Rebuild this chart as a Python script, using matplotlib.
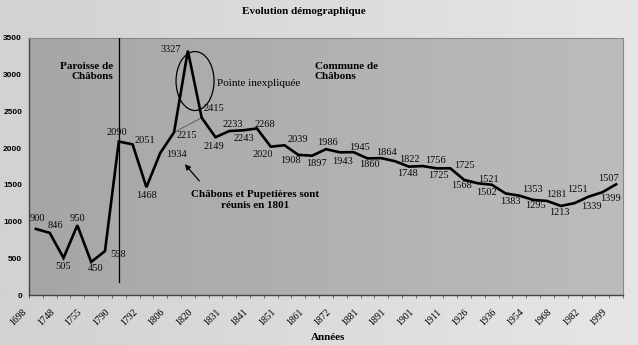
import matplotlib
matplotlib.use('Agg')
import matplotlib.pyplot as plt
import numpy as np
from matplotlib.patches import Ellipse
from matplotlib.transforms import ScaledTranslation, blended_transform_factory

# ---- data ----
tick_years = ['1698', '1748', '1755', '1790', '1792', '1806', '1820', '1831', '1841',
              '1851', '1861', '1872', '1881', '1891', '1901', '1911', '1926', '1936',
              '1954', '1968', '1982', '1999']
population = [900, 846, 505, 950, 450, 598, 2090, 2051, 1468, 1934, 2215, 3327, 2415,
              2149, 2233, 2243, 2268, 2020, 2039, 1908, 1897, 1986, 1943, 1945, 1860,
              1864, 1822, 1748, 1756, 1725, 1725, 1568, 1521, 1502, 1383, 1353, 1295,
              1281, 1213, 1251, 1339, 1399, 1507]
yticks = [0, 500, 1000, 1500, 2000, 2500, 3000, 3500]
merge_index = 6       # vertical separator (Paroisse / Commune)
peak_index = 11       # "Pointe inexpliquée"

# label placement (pixel offsets), style only
label_offsets = [(1, 10), (6, 7), (0, -9), (0, 7), (4, -7), (13, -3), (-2, 9), (12, 4),
                 (0, -8), (16, -2), (13, -3), (-17, 1), (12, 9), (-2, -9), (4, 7),
                 (1, -8), (8, 4), (-8, -8), (13, 6), (-8, -6), (4, -8), (2, 7), (3, -9),
                 (6, 5), (2, -6), (5, 6), (14, 2), (-1, -7), (13, 6), (2, -7), (14, 3),
                 (-3, -6), (10, 4), (-5, -8), (5, -8), (13, 6), (2, -6), (9, 6), (-1, -7),
                 (3, 14), (3, -10), (8, -6), (-8, 6)]

SERIF = ['Liberation Serif', 'DejaVu Serif']
SANS = ['Liberation Sans', 'DejaVu Sans']

fig = plt.figure(figsize=(6.38, 3.45), dpi=100)

# background with a slight left-to-right lightening (photo look)
bg = fig.add_axes([0, 0, 1, 1], zorder=-10)
grad = np.linspace(0, 1, 256).reshape(1, -1)
bg.imshow(grad, cmap=matplotlib.colors.LinearSegmentedColormap.from_list('g', ['#d2d2d2', '#e6e6e6']),
          aspect='auto', extent=[0, 1, 0, 1])
bg.set_axis_off()

ax = fig.add_axes([29 / 638, 50 / 345, 594 / 638, 257 / 345])
ax.imshow(grad, cmap=matplotlib.colors.LinearSegmentedColormap.from_list('p', ['#a6a6a6', '#bcbcbc']),
          aspect='auto', extent=[0, 1, 0, 1], transform=ax.transAxes, zorder=0)

x = list(range(len(population)))
ax.plot(x, population, color='black', lw=1.9, solid_joinstyle='miter', zorder=4)

for i, (v, off) in enumerate(zip(population, label_offsets)):
    ax.annotate(str(v), (i, v), xytext=off, textcoords='offset pixels',
                ha='center', va='center', fontsize=7.5, family=SERIF, color='#0a0a0a', zorder=5)

# separator line
ax.plot([merge_index, merge_index], [180, 3500], color='black', lw=0.9, zorder=3)

# expected line & ellipse
ax.plot([peak_index - 1, peak_index + 1], [population[peak_index - 1], population[peak_index + 1]],
        color='#555555', lw=0.6, zorder=3)
ax.add_patch(Ellipse((11.52, 2914), 2.75, 803, fill=False, edgecolor='black', lw=0.9, zorder=3))

ax.text(13.1, 2880, 'Pointe inexpliquée', fontsize=8, family=SERIF, ha='left', va='center')
ax.text(5.6, 3050, 'Paroisse de\nChâbons', fontsize=8, family=SERIF, fontweight='bold',
        ha='right', va='center', linespacing=1.15)
ax.text(20.2, 3050, 'Commune de\nChâbons', fontsize=8, family=SERIF, fontweight='bold',
        ha='left', va='center', linespacing=1.15)
ax.text(15.9, 1290, 'Châbons et Pupetières sont\nréunis en 1801', fontsize=8, family=SERIF,
        fontweight='bold', ha='center', va='center', multialignment='center', linespacing=1.3)
ax.annotate('', xy=(10.65, 1811), xytext=(11.96, 1525),
            arrowprops=dict(arrowstyle='-|>', color='black', lw=0.9, mutation_scale=8))

ax.set_xlim(-0.5, len(population) - 0.5)
ax.set_ylim(0, 3500)
major_pos = list(range(0, len(population), 2))
ax.set_xticks(major_pos)
ax.set_xticklabels([''] * len(major_pos))
# rotated year labels, anchored slightly left of / below each category tick
lab_tr = blended_transform_factory(ax.transData, ax.transAxes) + \
    ScaledTranslation(-10.5 / 100, -15.5 / 100, fig.dpi_scale_trans)
for pos, yr in zip(major_pos, tick_years):
    ax.text(pos, 0, yr, transform=lab_tr, rotation=45, rotation_mode='anchor',
            ha='right', va='center', fontsize=7, family=SERIF, clip_on=False)
ax.set_xticks([i + 0.5 for i in range(-1, len(population))], minor=True)
ax.tick_params(axis='x', which='major', length=0)
ax.tick_params(axis='x', which='minor', length=2, color='#555555')
ax.set_yticks(yticks)
ax.set_yticklabels([str(t) for t in yticks], fontsize=6, family=SANS, fontweight='bold')
ax.tick_params(axis='y', length=0, pad=5)

for s in ['left', 'bottom']:
    ax.spines[s].set_color('#444444')
    ax.spines[s].set_linewidth(1.0)
for s in ['top', 'right']:
    ax.spines[s].set_color('#888888')
    ax.spines[s].set_linewidth(0.8)

fig.text(304 / 638, 1 - 11 / 345, 'Evolution démographique', fontsize=8, family=SERIF,
         fontweight='bold', ha='center', va='center')
fig.text(328 / 638, 1 - 337 / 345, 'Années', fontsize=8, family=SERIF,
         fontweight='bold', ha='center', va='center')

fig.savefig('out.png', dpi=100)
